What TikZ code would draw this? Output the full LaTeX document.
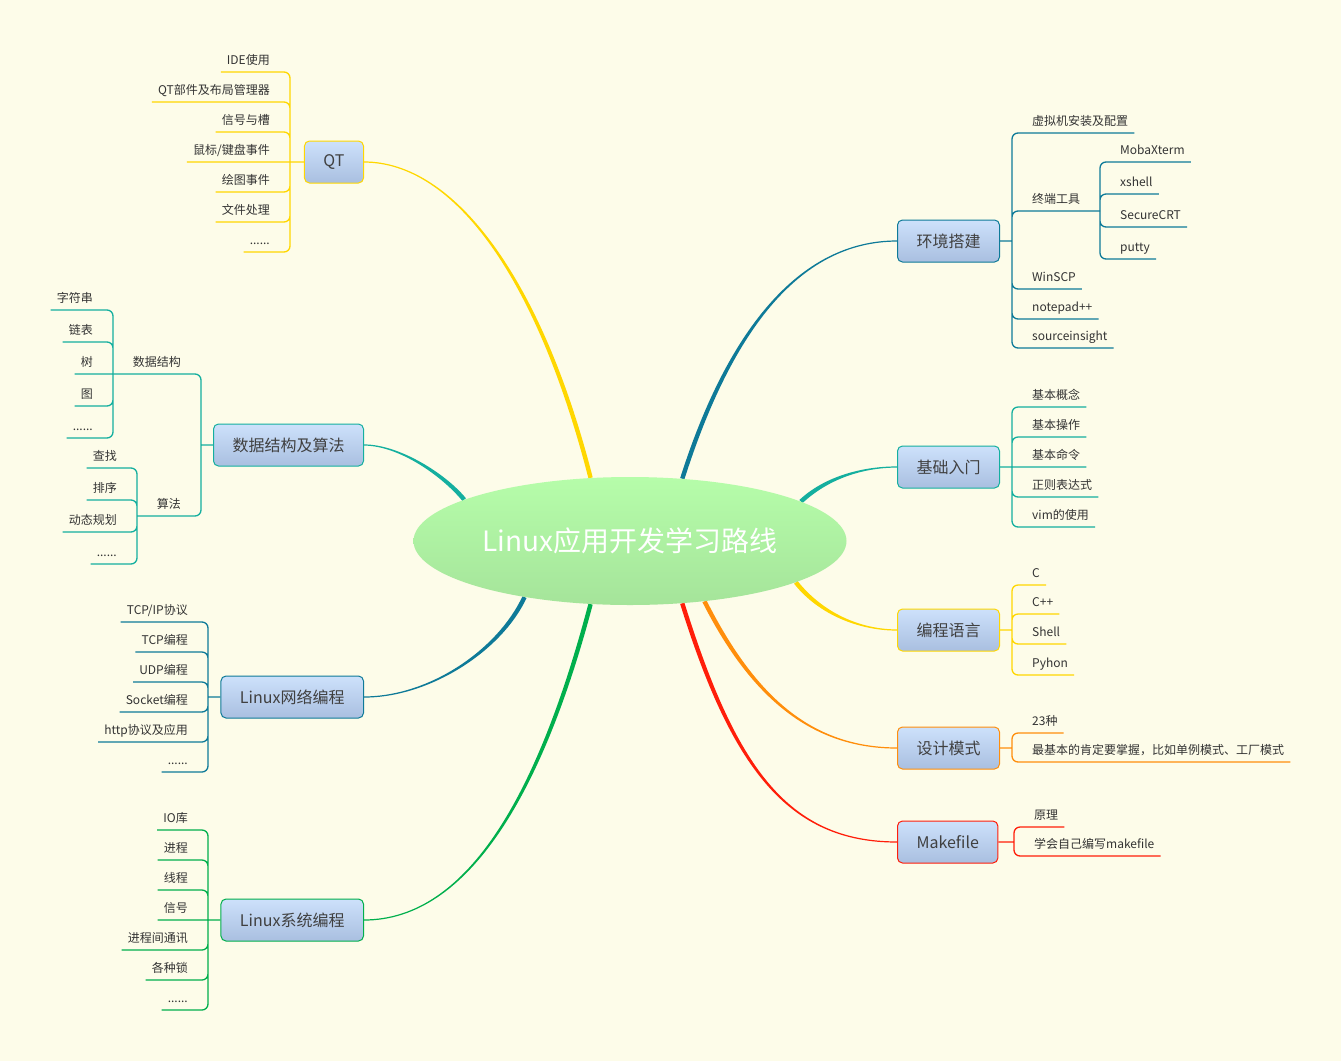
\documentclass[tikz,border=0pt]{standalone}
\usepackage{fontspec}
\setmainfont{Noto Sans CJK SC}
\usetikzlibrary{shapes.geometric}
\usetikzlibrary{calc}

\definecolor{bgc}{HTML}{FDFCE9}
\definecolor{cyel}{HTML}{FFD700}
\definecolor{cteal}{HTML}{14AF9F}
\definecolor{cblue}{HTML}{0E7A98}
\definecolor{cgreen}{HTML}{00AF4C}
\definecolor{corange}{HTML}{FF8E0C}
\definecolor{cred}{HTML}{FF1E0A}
\definecolor{boxtop}{HTML}{CDE1FB}
\definecolor{boxbot}{HTML}{A9BFE0}
\definecolor{rtop}{HTML}{B6FDAA}
\definecolor{rbot}{HTML}{A5E49A}
\definecolor{boxtxt}{HTML}{404040}
\definecolor{leaftxt}{HTML}{333333}

\pgfdeclarelayer{background}
\pgfsetlayers{background,main}

\tikzset{
  root/.style={ellipse, minimum width=433pt, minimum height=128pt, inner sep=0pt,
    top color=rtop, bottom color=rbot, text=white, font=\fontsize{28}{32}\selectfont},
  topic/.style={draw=#1, line width=1pt, rounded corners=5pt, top color=boxtop,
    bottom color=boxbot, text=boxtxt, font=\fontsize{16}{18}\selectfont,
    minimum height=42pt, inner xsep=19pt},
  leaf/.style={text=leaftxt, font=\fontsize{12}{14}\selectfont, text height=10pt,
    text depth=2pt, inner xsep=6pt, inner ysep=5.6pt},
  leafl/.style={leaf, anchor=south east},
  leafr/.style={leaf, anchor=south west},
  sub/.style={draw=#1, line width=1.3pt, rounded corners=6pt},
}

% tapered curve: colour, start, control 1, control 2, end
\newcommand{\branchcurve}[5]{%
  \path (#2) coordinate (b0) (#3) coordinate (b1) (#4) coordinate (b2) (#5) coordinate (b3);
  \path ($(b0)!2.2pt!90:(b1)$) coordinate (b0l) ($(b0)!2.2pt!-90:(b1)$) coordinate (b0r)
        ($(b3)!0.6pt!-90:(b2)$) coordinate (b3l) ($(b3)!0.6pt!90:(b2)$) coordinate (b3r);
  \fill[#1] (b0l) .. controls ($(b1)+(b0l)-(b0)$) and ($(b2)+(b3l)-(b3)$) .. (b3l)
    -- (b3r) .. controls ($(b2)+(b3r)-(b3)$) and ($(b1)+(b0r)-(b0)$) .. (b0r) -- cycle;
}

\begin{document}
\begin{tikzpicture}[x=1pt,y=-1pt]
\useasboundingbox (0,0) rectangle (1341,1061);

\node[root] (root) at (630,541) {Linux应用开发学习路线};

\node[topic=cyel, anchor=east] (qt) at (364,162) {QT};
\node[topic=cteal, anchor=east] (dsa) at (364,445) {数据结构及算法};
\node[topic=cblue, anchor=east] (net) at (364,697) {Linux网络编程};
\node[topic=cgreen, anchor=east] (sys) at (364,920) {Linux系统编程};
\node[topic=cblue, anchor=west] (env) at (897,241) {环境搭建};
\node[topic=cteal, anchor=west] (basic) at (897,467) {基础入门};
\node[topic=cyel, anchor=west] (lang) at (897,630) {编程语言};
\node[topic=corange, anchor=west] (dp) at (897,748) {设计模式};
\node[topic=cred, anchor=west] (mk) at (897,842) {Makefile};

% QT
\coordinate (qtj) at (290,162);
\node[leafl] (ide) at (276,72) {IDE使用};
\node[leafl] (wid) at (276,102) {QT部件及布局管理器};
\node[leafl] (sig) at (276,132) {信号与槽};
\node[leafl] (mouse) at (276,162) {鼠标/键盘事件};
\node[leafl] (paint) at (276,192) {绘图事件};
\node[leafl] (file) at (276,222) {文件处理};
\node[leafl] (qtx) at (276,252) {......};
\draw[sub=cyel] (qt.west) -- (qtj) (qtj) |- (ide.south west) (qtj) |- (wid.south west)
  (qtj) |- (sig.south west) (qtj) -- (mouse.south west) (qtj) |- (paint.south west)
  (qtj) |- (file.south west) (qtj) |- (qtx.south west);

% data structures and algorithms
\coordinate (dsj) at (201,445);
\coordinate (dss) at (113,374);
\coordinate (alg) at (137,516);
\node[leafl] (ds) at (187,374) {数据结构};
\node[leafl] (sf) at (187,516) {算法};
\node[leafl] (str) at (99,310) {字符串};
\node[leafl] (lst) at (99,342) {链表};
\node[leafl] (tree) at (99,374) {树};
\node[leafl] (grf) at (99,406) {图};
\node[leafl] (dsx) at (99,438) {......};
\node[leafl] (srch) at (123,468) {查找};
\node[leafl] (sort) at (123,500) {排序};
\node[leafl] (dyn) at (123,532) {动态规划};
\node[leafl] (sfx) at (123,564) {......};
\draw[sub=cteal] (dsa.west) -- (dsj) (dsj) |- (dss) (dsj) |- (alg);
\draw[sub=cteal] (dss) |- (str.south west) (dss) |- (lst.south west) (dss) -- (tree.south west)
  (dss) |- (grf.south west) (dss) |- (dsx.south west);
\draw[sub=cteal] (alg) |- (srch.south west) (alg) |- (sort.south west)
  (alg) |- (dyn.south west) (alg) |- (sfx.south west);

% network programming
\coordinate (netj) at (208,697);
\node[leafl] (tcpip) at (194,622) {TCP/IP协议};
\node[leafl] (tcp) at (194,652) {TCP编程};
\node[leafl] (udp) at (194,682) {UDP编程};
\node[leafl] (sock) at (194,712) {Socket编程};
\node[leafl] (http) at (194,742) {http协议及应用};
\node[leafl] (netx) at (194,772) {......};
\draw[sub=cblue] (net.west) -- (netj) (netj) |- (tcpip.south west) (netj) |- (tcp.south west)
  (netj) |- (udp.south west) (netj) |- (sock.south west) (netj) |- (http.south west)
  (netj) |- (netx.south west);

% system programming
\coordinate (sysj) at (208,920);
\node[leafl] (io) at (194,830) {IO库};
\node[leafl] (proc) at (194,860) {进程};
\node[leafl] (thr) at (194,890) {线程};
\node[leafl] (sgn) at (194,920) {信号};
\node[leafl] (ipc) at (194,950) {进程间通讯};
\node[leafl] (lock) at (194,980) {各种锁};
\node[leafl] (sysx) at (194,1010) {......};
\draw[sub=cgreen] (sys.west) -- (sysj) (sysj) |- (io.south west) (sysj) |- (proc.south west)
  (sysj) |- (thr.south west) (sysj) -- (sgn.south west) (sysj) |- (ipc.south west)
  (sysj) |- (lock.south west) (sysj) |- (sysx.south west);

% environment
\coordinate (envj) at (1012,241);
\coordinate (term) at (1100,211);
\node[leafr] (vm) at (1026,133) {虚拟机安装及配置};
\node[leafr] (trm) at (1026,211) {终端工具};
\node[leafr] (scp) at (1026,289) {WinSCP};
\node[leafr] (npp) at (1026,319) {notepad++};
\node[leafr] (si) at (1026,348) {sourceinsight};
\node[leafr] (moba) at (1114,162) {MobaXterm};
\node[leafr] (xsh) at (1114,194) {xshell};
\node[leafr] (crt) at (1114,227) {SecureCRT};
\node[leafr] (pty) at (1114,259) {putty};
\draw[sub=cblue] (env.east) -- (envj) (envj) |- (vm.south east) (envj) |- (term)
  (envj) |- (scp.south east) (envj) |- (npp.south east) (envj) |- (si.south east);
\draw[sub=cblue] (term) |- (moba.south east) (term) |- (xsh.south east)
  (term) |- (crt.south east) (term) |- (pty.south east);

% basics
\coordinate (basj) at (1012,467);
\node[leafr] (idea) at (1026,407) {基本概念};
\node[leafr] (oper) at (1026,437) {基本操作};
\node[leafr] (cmd) at (1026,467) {基本命令};
\node[leafr] (regx) at (1026,497) {正则表达式};
\node[leafr] (vim) at (1026,527) {vim的使用};
\draw[sub=cteal] (basic.east) -- (basj) (basj) |- (idea.south east) (basj) |- (oper.south east)
  (basj) -- (cmd.south east) (basj) |- (regx.south east) (basj) |- (vim.south east);

% languages
\coordinate (langj) at (1012,630);
\node[leafr] (lc) at (1026,585) {C};
\node[leafr] (lcpp) at (1026,614) {C++};
\node[leafr] (lsh) at (1026,644) {Shell};
\node[leafr] (lpy) at (1026,675) {Pyhon};
\draw[sub=cyel] (lang.east) -- (langj) (langj) |- (lc.south east) (langj) |- (lcpp.south east)
  (langj) |- (lsh.south east) (langj) |- (lpy.south east);

% design patterns
\coordinate (dpj) at (1012,748);
\node[leafr] (dp23) at (1026,733) {23种};
\node[leafr] (dpb) at (1026,762) {最基本的肯定要掌握，比如单例模式、工厂模式};
\draw[sub=corange] (dp.east) -- (dpj) (dpj) |- (dp23.south east) (dpj) |- (dpb.south east);

% makefile
\coordinate (mkj) at (1014,842);
\node[leafr] (mkp) at (1028,827) {原理};
\node[leafr] (mkw) at (1028,856) {学会自己编写makefile};
\draw[sub=cred] (mk.east) -- (mkj) (mkj) |- (mkp.south east) (mkj) |- (mkw.south east);

\begin{pgfonlayer}{background}
\fill[bgc] (0,0) rectangle (1341,1061);
\branchcurve{cyel}{root.122}{540,280}{455,162}{qt.east}
\branchcurve{cteal}{root.166}{445,476}{400,445}{dsa.east}
\branchcurve{cblue}{root.208}{500,650}{430,697}{net.east}
\branchcurve{cgreen}{root.238}{542,788}{470,920}{sys.east}
\branchcurve{cblue}{root.50}{728,335}{797,241}{env.west}
\branchcurve{cteal}{root.13}{825,479}{860,467}{basic.west}
\branchcurve{cyel}{root.346}{821,614}{860,630}{lang.west}
\branchcurve{corange}{root.321}{750,691}{807,748}{dp.west}
\branchcurve{cred}{root.310}{733,766}{787,842}{mk.west}
\end{pgfonlayer}
\end{tikzpicture}
\end{document}
